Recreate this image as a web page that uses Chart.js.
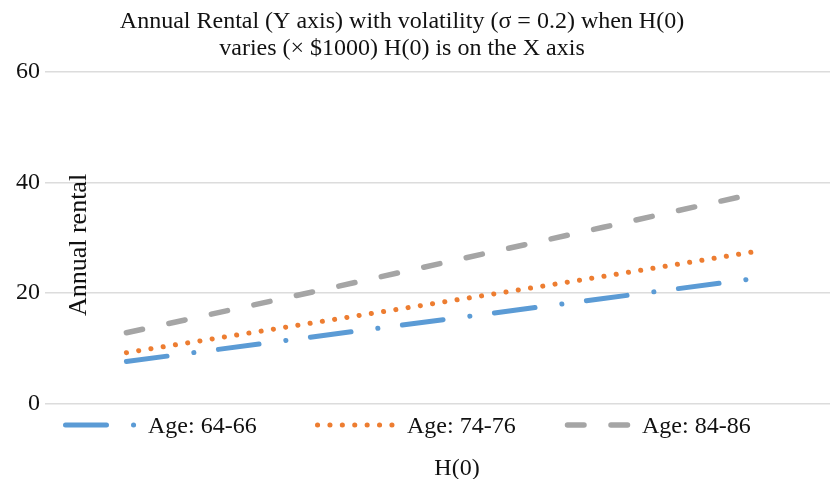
<!DOCTYPE html>
<html>
<head>
<meta charset="utf-8">
<script src="https://cdn.jsdelivr.net/npm/chart.js@4/dist/chart.umd.min.js"></script>
<style>
  html, body { margin: 0; padding: 0; background: #fff; }
  #wrap { width: 830px; height: 479px; position: relative; }
</style>
</head>
<body>
<div id="wrap"><canvas id="rentalChart"></canvas></div>
<script>
// H(0) (x $1000) - not labelled on the axis
const hValues = [100, 150, 200, 250, 300];
const age6466 = [7.6, 11.4, 15.2, 19.0, 22.8];
const age7476 = [9.2, 13.8, 18.4, 23.0, 27.7];
const age8486 = [12.8, 19.1, 25.5, 31.9, 38.3];
const seriesLabels = ['Age: 64-66', 'Age: 74-76', 'Age: 84-86'];
const yTicks = [0, 20, 40, 60];

const titleLines = [
  'Annual Rental (Y axis) with volatility (\u03c3 = 0.2) when H(0)',
  'varies (\u00d7 $1000) H(0) is on the X axis'
];
const yTitle = 'Annual rental';
const xTitle = 'H(0)';

const serif = '"Liberation Serif", "Times New Roman", serif';
const textColor = '#111';

const toPoints = (values) => hValues.map((h, index) => ({ x: h, y: values[index] }));

// titles, axis titles and legend are drawn by hand to sit where the original puts them
const textPlugin = {
  id: 'textPlugin',
  afterDraw(chart) {
    const { ctx } = chart;
    ctx.save();
    ctx.fillStyle = textColor;
    ctx.textBaseline = 'alphabetic';

    ctx.font = `24px ${serif}`;
    ctx.textAlign = 'center';
    ctx.fillText(titleLines[0], 402, 28);
    ctx.fillText(titleLines[1], 402, 55);

    ctx.fillText(xTitle, 457, 475);

    ctx.save();
    ctx.font = `26px ${serif}`;
    ctx.translate(86, 245);
    ctx.rotate(-Math.PI / 2);
    ctx.fillText(yTitle, 0, 0);
    ctx.restore();

    const sampleX = [63, 315, 565];
    const sampleW = [72, 80, 70];
    const textX = [148, 407, 642];
    chart.data.datasets.forEach((dataset, index) => {
      ctx.save();
      ctx.strokeStyle = dataset.borderColor;
      ctx.lineWidth = dataset.borderWidth;
      ctx.lineCap = 'round';
      ctx.setLineDash(dataset.borderDash);
      ctx.beginPath();
      ctx.moveTo(sampleX[index] + 2.5, 425);
      ctx.lineTo(sampleX[index] + sampleW[index], 425);
      ctx.stroke();
      ctx.restore();

      ctx.font = `24px ${serif}`;
      ctx.textAlign = 'left';
      ctx.fillText(dataset.label, textX[index], 433);
    });

    ctx.restore();
  }
};

new Chart(document.getElementById('rentalChart'), {
  type: 'line',
  data: {
    datasets: [
      {
        label: seriesLabels[0],
        data: toPoints(age6466),
        borderColor: '#5b9bd5',
        borderWidth: 5,
        borderDash: [41, 27, 0.1, 24.7],
        borderCapStyle: 'round'
      },
      {
        label: seriesLabels[1],
        data: toPoints(age7476),
        borderColor: '#ed7d31',
        borderWidth: 5,
        borderDash: [0.1, 12.3],
        borderCapStyle: 'round'
      },
      {
        label: seriesLabels[2],
        data: toPoints(age8486),
        borderColor: '#a5a5a5',
        borderWidth: 5.5,
        borderDash: [16.5, 27],
        borderCapStyle: 'round'
      }
    ]
  },
  options: {
    responsive: true,
    maintainAspectRatio: false,
    animation: false,
    layout: {
      padding: { left: 11, right: 0, top: 72, bottom: 75.5 }
    },
    elements: {
      point: { radius: 0 },
      line: { tension: 0, fill: false }
    },
    scales: {
      x: {
        type: 'linear',
        display: false,
        min: 74.4,
        max: 321.3
      },
      y: {
        min: 0,
        max: 60,
        afterBuildTicks: (scale) => {
          scale.ticks = yTicks.map((value) => ({ value }));
        },
        border: { display: false },
        grid: {
          color: '#dcdcdc',
          lineWidth: 1.6,
          drawTicks: false
        },
        ticks: {
          color: textColor,
          padding: 5,
          font: { family: serif, size: 24 }
        }
      }
    },
    plugins: {
      legend: { display: false },
      title: { display: false },
      tooltip: { enabled: false }
    }
  },
  plugins: [textPlugin]
});
</script>
</body>
</html>
